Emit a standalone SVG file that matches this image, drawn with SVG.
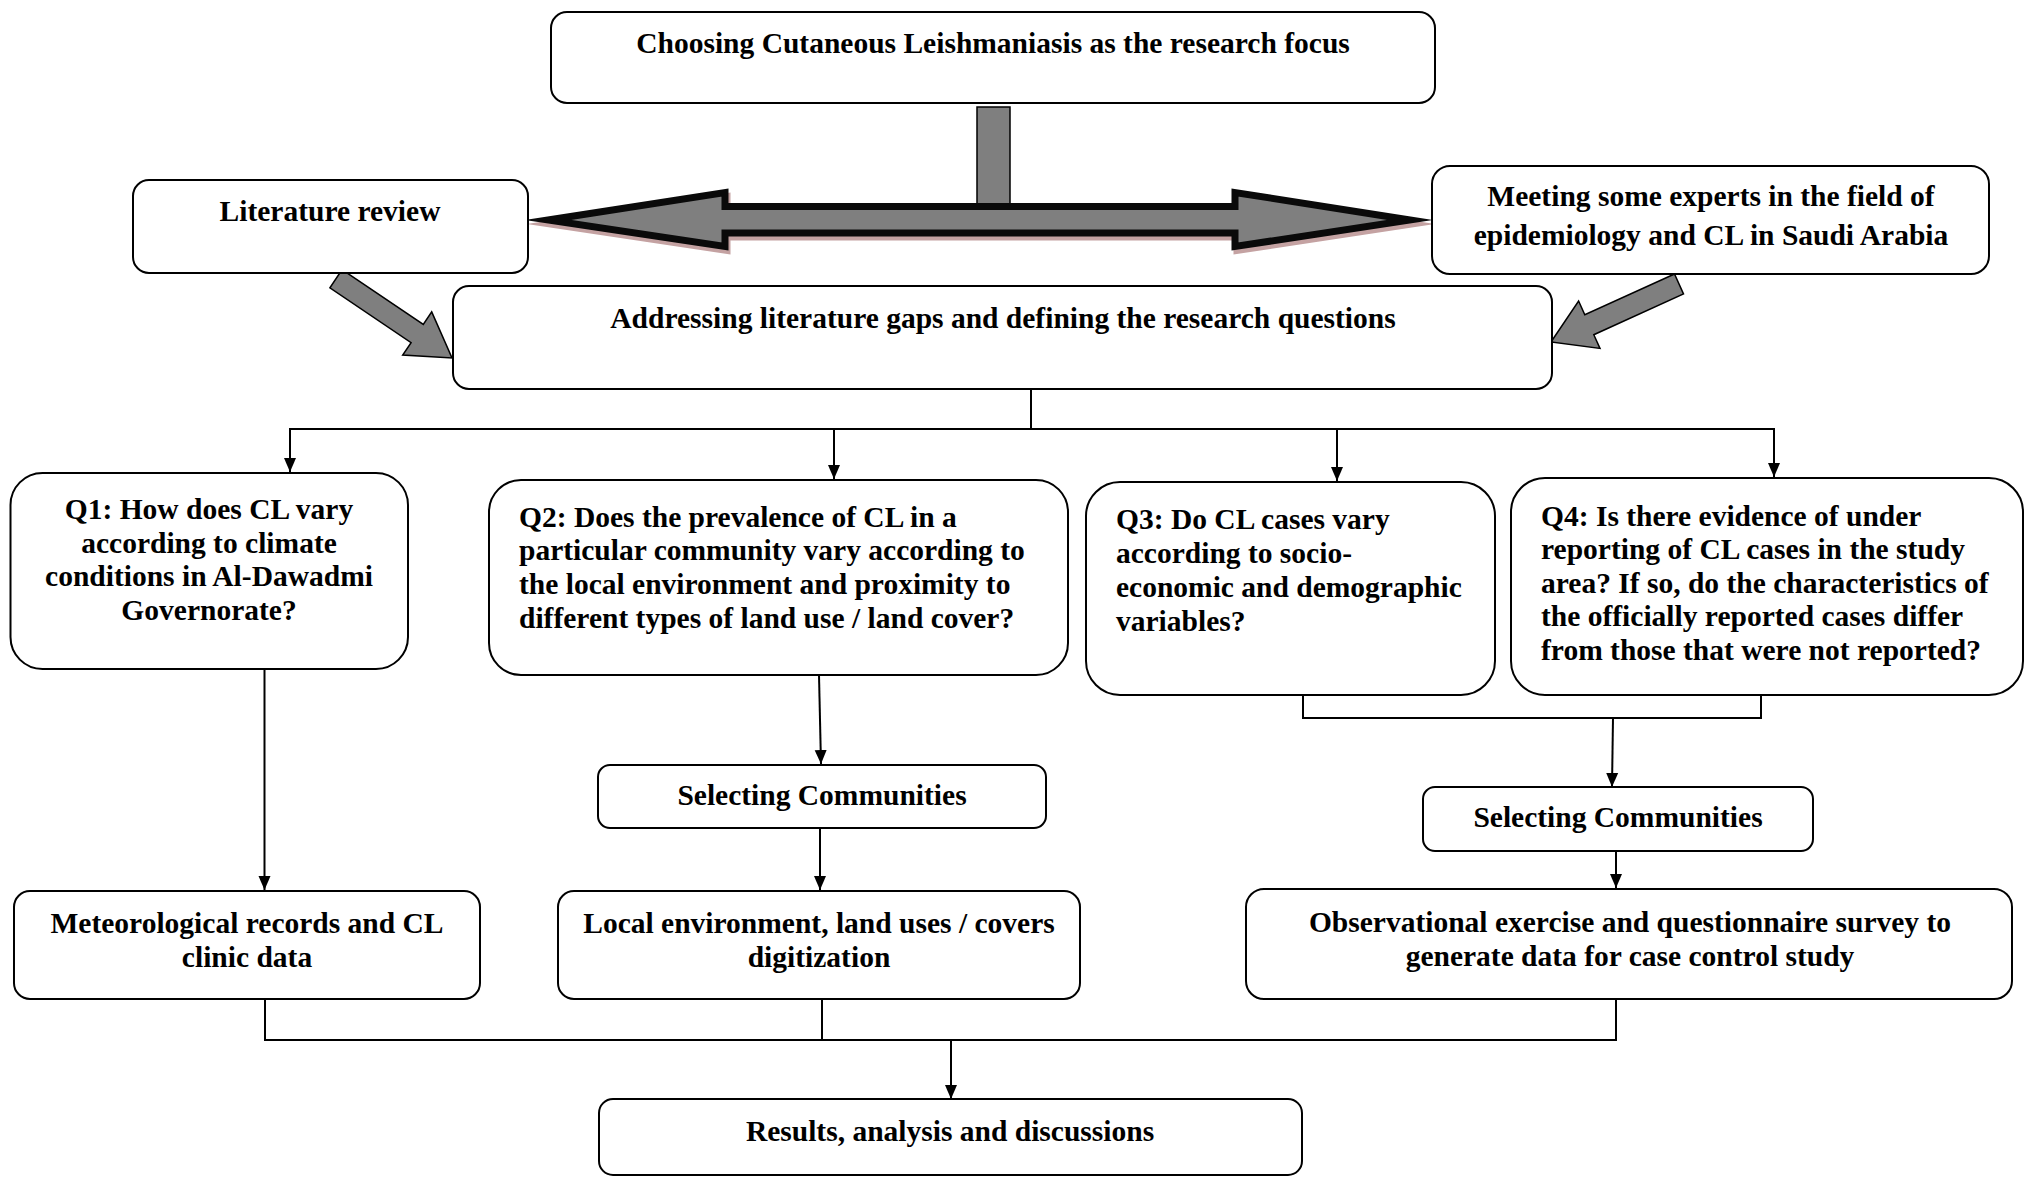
<svg xmlns="http://www.w3.org/2000/svg" width="2025" height="1178" viewBox="0 0 2025 1178">
  <style>
    .box { fill: #ffffff; stroke: #000000; stroke-width: 2; }
    .t { font-family: "Liberation Serif", "Times New Roman", serif; font-weight: bold; font-size: 29.5px; fill: #000000; }
    .c { text-anchor: middle; }
    .conn { fill: none; stroke: #000000; stroke-width: 2; }
    .blk { fill: #7f7f7f; stroke: #000000; stroke-width: 1.5; stroke-linejoin: miter; }
  </style>
  <defs>
    <marker id="head" markerUnits="userSpaceOnUse" markerWidth="14" markerHeight="14" refX="14" refY="7" orient="auto">
      <path d="M0,1 L14,7 L0,13 z" fill="#000000"/>
    </marker>
  </defs>
  <rect width="2025" height="1178" fill="#ffffff"/>

  <!-- block arrows between the top-level boxes -->
  <g id="block-arrows">
    <rect x="977" y="107" width="33" height="105" class="blk"/>
    <polygon points="548,220 725,192.5 725,206.5 1235,206.5 1235,192.5 1410,220 1235,246.5 1235,233 725,233 725,246.5" fill="#c4a2a2" stroke="#c4a2a2" stroke-width="7" stroke-miterlimit="10" transform="translate(2,4)"/>
    <polygon points="548,220 725,192.5 725,206.5 1235,206.5 1235,192.5 1410,220 1235,246.5 1235,233 725,233 725,246.5" fill="#7f7f7f" stroke="#0a0a0a" stroke-width="7" stroke-miterlimit="10"/>
    <polygon class="blk" points="342.1,269.6 423.3,324.4 431.7,311.9 452,358 402.7,355.1 411.1,342.6 329.9,287.8"/>
    <polygon class="blk" points="1674.5,274 1584.8,314.7 1578.6,301 1551,342 1600,348.4 1593.8,334.7 1683.5,294"/>
  </g>

  <!-- connectors -->
  <g id="connectors">
    <line class="conn" x1="1031" y1="390" x2="1031" y2="429"/>
    <line class="conn" x1="289" y1="429" x2="1775" y2="429"/>
    <line class="conn" x1="290" y1="429" x2="290" y2="472" marker-end="url(#head)"/>
    <line class="conn" x1="834" y1="429" x2="834" y2="479" marker-end="url(#head)"/>
    <line class="conn" x1="1337" y1="429" x2="1337" y2="481" marker-end="url(#head)"/>
    <line class="conn" x1="1774" y1="429" x2="1774" y2="477" marker-end="url(#head)"/>

    <line class="conn" x1="264.5" y1="669" x2="264.5" y2="890" marker-end="url(#head)"/>
    <line class="conn" x1="819" y1="675" x2="821" y2="764" marker-end="url(#head)"/>
    <line class="conn" x1="820" y1="828" x2="820" y2="890" marker-end="url(#head)"/>

    <polyline class="conn" points="1303,695 1303,718 1761,718 1761,695"/>
    <line class="conn" x1="1613" y1="718" x2="1612" y2="787" marker-end="url(#head)"/>
    <line class="conn" x1="1616" y1="851" x2="1616" y2="888" marker-end="url(#head)"/>

    <line class="conn" x1="265" y1="999" x2="265" y2="1040"/>
    <line class="conn" x1="822" y1="999" x2="822" y2="1040"/>
    <line class="conn" x1="1616" y1="999" x2="1616" y2="1040"/>
    <line class="conn" x1="264" y1="1040" x2="1617" y2="1040"/>
    <line class="conn" x1="951" y1="1040" x2="951" y2="1099" marker-end="url(#head)"/>
  </g>

  <g id="focus">
    <rect class="box" x="551" y="12" width="884" height="91" rx="16"/>
    <text class="t c" x="993" y="53">Choosing Cutaneous Leishmaniasis as the research focus</text>
  </g>

  <g id="literature">
    <rect class="box" x="133" y="180" width="395" height="93" rx="16"/>
    <text class="t c" x="330" y="221">Literature review</text>
  </g>

  <g id="experts">
    <rect class="box" x="1432" y="166" width="557" height="108" rx="18"/>
    <text class="t c" x="1711" y="206">Meeting some experts in the field of</text>
    <text class="t c" x="1711" y="245">epidemiology and CL in Saudi Arabia</text>
  </g>

  <g id="gaps">
    <rect class="box" x="453" y="286" width="1099" height="103" rx="16"/>
    <text class="t c" x="1003" y="328">Addressing literature gaps and defining the research questions</text>
  </g>

  <g id="q1">
    <rect class="box" x="10.5" y="473" width="397.5" height="196" rx="32"/>
    <text class="t c" x="209" y="519">Q1: How does CL vary</text>
    <text class="t c" x="209" y="553">according to climate</text>
    <text class="t c" x="209" y="586">conditions in Al-Dawadmi</text>
    <text class="t c" x="209" y="620">Governorate?</text>
  </g>

  <g id="q2">
    <rect class="box" x="489" y="480" width="579" height="195" rx="32"/>
    <text class="t" x="519" y="527">Q2: Does the prevalence of CL in a</text>
    <text class="t" x="519" y="560">particular community vary according to</text>
    <text class="t" x="519" y="594">the local environment and proximity to</text>
    <text class="t" x="519" y="628">different types of land use / land cover?</text>
  </g>

  <g id="q3">
    <rect class="box" x="1086" y="482" width="409" height="213" rx="34"/>
    <text class="t" x="1116" y="529">Q3: Do CL cases vary</text>
    <text class="t" x="1116" y="563">according to socio-</text>
    <text class="t" x="1116" y="597">economic and demographic</text>
    <text class="t" x="1116" y="631">variables?</text>
  </g>

  <g id="q4">
    <rect class="box" x="1511" y="478" width="512" height="217" rx="34"/>
    <text class="t" x="1541" y="526">Q4: Is there evidence of under</text>
    <text class="t" x="1541" y="559">reporting of CL cases in the study</text>
    <text class="t" x="1541" y="593">area? If so, do the characteristics of</text>
    <text class="t" x="1541" y="626">the officially reported cases differ</text>
    <text class="t" x="1541" y="660">from those that were not reported?</text>
  </g>

  <g id="select-q2">
    <rect class="box" x="598" y="765" width="448" height="63" rx="12"/>
    <text class="t c" x="822" y="805">Selecting Communities</text>
  </g>

  <g id="select-q34">
    <rect class="box" x="1423" y="787" width="390" height="64" rx="12"/>
    <text class="t c" x="1618" y="827">Selecting Communities</text>
  </g>

  <g id="meteo">
    <rect class="box" x="14" y="891" width="466" height="108" rx="16"/>
    <text class="t c" x="247" y="933">Meteorological records and CL</text>
    <text class="t c" x="247" y="967">clinic data</text>
  </g>

  <g id="landuse">
    <rect class="box" x="558" y="891" width="522" height="108" rx="16"/>
    <text class="t c" x="819" y="933">Local environment, land uses / covers</text>
    <text class="t c" x="819" y="967">digitization</text>
  </g>

  <g id="survey">
    <rect class="box" x="1246" y="889" width="766" height="110" rx="18"/>
    <text class="t c" x="1630" y="932">Observational exercise and questionnaire survey to</text>
    <text class="t c" x="1630" y="966">generate data for case control study</text>
  </g>

  <g id="results">
    <rect class="box" x="599" y="1099" width="703" height="76" rx="14"/>
    <text class="t c" x="950" y="1141">Results, analysis and discussions</text>
  </g>
</svg>
